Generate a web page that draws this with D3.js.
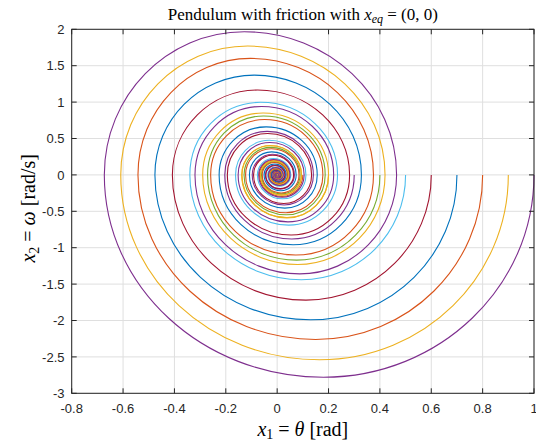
<!DOCTYPE html>
<html>
<head>
<meta charset="utf-8">
<script src="https://cdn.jsdelivr.net/npm/d3@7"></script>
<style>
  body { margin: 0; background: #fff; }
  svg { display: block; }
</style>
</head>
<body>
<svg id="chart" width="536" height="441"></svg>
<script>
// initial angles x1(0) in rad, x2(0) = 0
var startAngles = [0.1, 0.2, 0.3, 0.4, 0.5, 0.6, 0.7, 0.8, 0.9, 1.0];

// turning points of each trajectory:
// [x1, 0] where the spiral crosses x2 = 0, [x1, x2] at the x2 extremes
var traj01 = [[0.1,0],[0.019,-0.295],[-0.069,0],[-0.013,0.202],[0.047,0],[0.009,-0.138],[-0.033,0],[-0.006,0.097],[0.0225,0],[0.004,-0.066],[-0.0155,0],[-0.003,0.045],[0.0107,0],[0.002,-0.031],[-0.0074,0],[-0.0014,0.022],[0.0051,0],[0.001,-0.015]];
var traj02 = [[0.2,0],[0.038,-0.59],[-0.137,0],[-0.026,0.401],[0.094,0],[0.018,-0.275],[-0.065,0],[-0.012,0.19],[0.045,0],[0.0086,-0.132],[-0.031,0],[-0.006,0.091],[0.021,0],[0.004,-0.062],[-0.0147,0],[-0.0028,0.043],[0.0101,0],[0.002,-0.03],[-0.007,0],[-0.0013,0.02],[0.0048,0],[0.0009,-0.014]];
var traj03 = [[0.3,0],[0.057,-0.88],[-0.204,0],[-0.039,0.598],[0.141,0],[0.027,-0.413],[-0.097,0],[-0.018,0.284],[0.067,0],[0.013,-0.196],[-0.046,0],[-0.0088,0.135],[0.032,0],[0.0061,-0.094],[-0.022,0],[-0.0042,0.064],[0.015,0],[0.0029,-0.044],[-0.0104,0],[-0.002,0.03],[0.0072,0],[0.0014,-0.021],[-0.005,0],[-0.001,0.015]];
var traj04 = [[0.4,0],[0.076,-1.17],[-0.271,0],[-0.053,0.81],[0.187,0],[0.036,-0.548],[-0.129,0],[-0.025,0.378],[0.089,0],[0.017,-0.261],[-0.061,0],[-0.012,0.179],[0.042,0],[0.008,-0.123],[-0.029,0],[-0.0055,0.085],[0.02,0],[0.0038,-0.059],[-0.014,0],[-0.0027,0.041],[0.0096,0],[0.0018,-0.028],[-0.0066,0],[-0.0012,0.019],[0.0046,0],[0.0008,-0.013]];
var traj05 = [[0.5,0],[0.094,-1.44],[-0.34,0],[-0.065,0.997],[0.235,0],[0.045,-0.69],[-0.162,0],[-0.031,0.475],[0.112,0],[0.021,-0.328],[-0.077,0],[-0.015,0.226],[0.053,0],[0.01,-0.155],[-0.037,0],[-0.007,0.108],[0.025,0],[0.0048,-0.074],[-0.0175,0],[-0.0033,0.051],[0.012,0],[0.0023,-0.035],[-0.0083,0],[-0.0016,0.024],[0.0057,0],[0.0011,-0.017]];
var traj06 = [[0.6,0],[0.112,-1.72],[-0.408,0],[-0.076,1.166],[0.282,0],[0.054,-0.826],[-0.194,0],[-0.037,0.568],[0.134,0],[0.026,-0.393],[-0.092,0],[-0.018,0.27],[0.064,0],[0.012,-0.187],[-0.044,0],[-0.0084,0.129],[0.03,0],[0.0057,-0.088],[-0.021,0],[-0.004,0.062],[0.0145,0],[0.0027,-0.042],[-0.01,0],[-0.0019,0.029],[0.0069,0],[0.0013,-0.02],[-0.0047,0],[-0.0009,0.014]];
var traj07 = [[0.7,0],[0.13,-1.99],[-0.476,0],[-0.089,1.37],[0.328,0],[0.062,-0.96],[-0.226,0],[-0.043,0.66],[0.156,0],[0.03,-0.457],[-0.108,0],[-0.021,0.316],[0.074,0],[0.014,-0.217],[-0.051,0],[-0.0097,0.149],[0.035,0],[0.0067,-0.103],[-0.024,0],[-0.0046,0.07],[0.017,0],[0.0033,-0.05],[-0.0115,0],[-0.0022,0.034],[0.008,0],[0.0015,-0.023],[-0.0055,0],[-0.001,0.016]];
var traj08 = [[0.8,0],[0.15,-2.26],[-0.542,0],[-0.104,1.6],[0.375,0],[0.072,-1.1],[-0.259,0],[-0.049,0.76],[0.178,0],[0.034,-0.52],[-0.123,0],[-0.023,0.36],[0.085,0],[0.016,-0.249],[-0.058,0],[-0.011,0.17],[0.04,0],[0.0076,-0.117],[-0.028,0],[-0.0053,0.082],[0.019,0],[0.0036,-0.056],[-0.013,0],[-0.0025,0.038],[0.009,0],[0.0017,-0.026],[-0.0062,0],[-0.0012,0.018]];
var traj09 = [[0.9,0],[0.165,-2.54],[-0.609,0],[-0.115,1.77],[0.42,0],[0.08,-1.23],[-0.29,0],[-0.055,0.85],[0.2,0],[0.038,-0.586],[-0.138,0],[-0.026,0.404],[0.095,0],[0.018,-0.278],[-0.065,0],[-0.012,0.19],[0.045,0],[0.0086,-0.132],[-0.031,0],[-0.0059,0.091],[0.021,0],[0.004,-0.062],[-0.015,0],[-0.0028,0.043],[0.01,0],[0.0019,-0.029],[-0.007,0],[-0.0013,0.02],[0.0048,0],[0.0009,-0.014]];
var traj10 = [[1,0],[0.18,-2.78],[-0.673,0],[-0.128,1.967],[0.465,0],[0.088,-1.36],[-0.32,0],[-0.061,0.94],[0.22,0],[0.042,-0.645],[-0.152,0],[-0.029,0.445],[0.105,0],[0.02,-0.308],[-0.072,0],[-0.014,0.211],[0.05,0],[0.0095,-0.146],[-0.034,0],[-0.0065,0.1],[0.024,0],[0.0046,-0.07],[-0.016,0],[-0.003,0.047],[0.011,0],[0.002,-0.032],[-0.0076,0],[-0.0014,0.022],[0.0052,0],[0.001,-0.015]];

var trajectories = [traj01, traj02, traj03, traj04, traj05, traj06, traj07, traj08, traj09, traj10];

var xTicks = [-0.8, -0.6, -0.4, -0.2, 0, 0.2, 0.4, 0.6, 0.8, 1];
var yTicks = [-3, -2.5, -2, -1.5, -1, -0.5, 0, 0.5, 1, 1.5, 2];

// matlab default line colours (x1(0) = 0 took the first, blue)
var lineColors = ['#0072BD', '#D95319', '#EDB120', '#7E2F8E', '#77AC30', '#4DBEEE', '#A2142F'];

var svg = d3.select('#chart');
var plotL = 71.7, plotR = 534, plotT = 29.3, plotB = 393.3;

var x = d3.scaleLinear().domain([-0.8, 1]).range([plotL, plotR]);
var y = d3.scaleLinear().domain([-3, 2]).range([plotB, plotT]);

var axisColor = '#262626';
var tickFont = '"Liberation Sans", Arial, sans-serif';
var mathFont = '"Liberation Serif", "Times New Roman", serif';

// grid
var grid = svg.append('g').attr('class', 'grid');
grid.selectAll('line.gx').data(xTicks).enter().append('line')
  .attr('x1', function (d) { return x(d); })
  .attr('x2', function (d) { return x(d); })
  .attr('y1', plotT).attr('y2', plotB)
  .attr('stroke', '#dfdfdf').attr('stroke-width', 1);
grid.selectAll('line.gy').data(yTicks).enter().append('line')
  .attr('x1', plotL).attr('x2', plotR)
  .attr('y1', function (d) { return y(d); })
  .attr('y2', function (d) { return y(d); })
  .attr('stroke', '#dfdfdf').attr('stroke-width', 1);

// spirals: quarter-turn arcs between turning points
function spiralPath(pts) {
  var p = d3.path(), k = 0.5523;
  p.moveTo(x(pts[0][0]), y(pts[0][1]));
  for (var i = 1; i < pts.length; i++) {
    var ax = x(pts[i - 1][0]), ay = y(pts[i - 1][1]);
    var bx = x(pts[i][0]), by = y(pts[i][1]);
    if (pts[i - 1][1] === 0) {
      // vertical tangent at x2 = 0, horizontal at the x2 extreme
      p.bezierCurveTo(ax, ay + k * (by - ay), bx + k * (ax - bx), by, bx, by);
    } else {
      p.bezierCurveTo(ax + k * (bx - ax), ay, bx, by + k * (ay - by), bx, by);
    }
  }
  return p.toString();
}

svg.append('g').attr('class', 'lines')
  .selectAll('path')
  .data(trajectories)
  .enter()
  .append('path')
  .attr('d', spiralPath)
  .attr('fill', 'none')
  .attr('stroke', function (d, i) { return lineColors[(i + 1) % lineColors.length]; })
  .attr('stroke-width', 1.1);

// box + ticks
var box = svg.append('g').attr('class', 'box');
box.append('rect')
  .attr('x', plotL).attr('y', plotT)
  .attr('width', plotR - plotL).attr('height', plotB - plotT)
  .attr('fill', 'none').attr('stroke', axisColor).attr('stroke-width', 1);

var tl = 5;
xTicks.forEach(function (t) {
  box.append('line').attr('x1', x(t)).attr('x2', x(t)).attr('y1', plotB).attr('y2', plotB - tl)
    .attr('stroke', axisColor);
  box.append('line').attr('x1', x(t)).attr('x2', x(t)).attr('y1', plotT).attr('y2', plotT + tl)
    .attr('stroke', axisColor);
});
yTicks.forEach(function (t) {
  box.append('line').attr('x1', plotL).attr('x2', plotL + tl).attr('y1', y(t)).attr('y2', y(t))
    .attr('stroke', axisColor);
  box.append('line').attr('x1', plotR).attr('x2', plotR - tl).attr('y1', y(t)).attr('y2', y(t))
    .attr('stroke', axisColor);
});

svg.append('g').selectAll('text')
  .data(xTicks).enter().append('text')
  .attr('x', function (d) { return x(d); })
  .attr('y', 413)
  .attr('text-anchor', 'middle')
  .style('font-family', tickFont).style('font-size', '13px').style('fill', axisColor)
  .text(function (d) { return String(d); });

svg.append('g').selectAll('text')
  .data(yTicks).enter().append('text')
  .attr('x', 64.5)
  .attr('y', function (d) { return y(d) + 4.7; })
  .attr('text-anchor', 'end')
  .style('font-family', tickFont).style('font-size', '13px').style('fill', axisColor)
  .text(function (d) { return String(d); });

// title
var title = svg.append('text')
  .attr('x', (plotL + plotR) / 2).attr('y', 20)
  .attr('text-anchor', 'middle')
  .style('font-family', mathFont).style('font-size', '17px').style('fill', '#000');
title.append('tspan').text('Pendulum with friction with ');
title.append('tspan').style('font-style', 'italic').text('x');
title.append('tspan').style('font-style', 'italic').style('font-size', '12px').attr('dy', 3).text('eq');
title.append('tspan').attr('dy', -3).text(' = (0, 0)');

// x label
var xl = svg.append('text')
  .attr('x', (plotL + plotR) / 2).attr('y', 436)
  .attr('text-anchor', 'middle')
  .style('font-family', mathFont).style('font-size', '20px').style('fill', '#000');
xl.append('tspan').style('font-style', 'italic').text('x');
xl.append('tspan').style('font-size', '14px').attr('dy', 3).text('1');
xl.append('tspan').attr('dy', -3).text(' = ');
xl.append('tspan').style('font-style', 'italic').text('\u03b8');
xl.append('tspan').text(' [rad]');

// y label
var yl = svg.append('text')
  .attr('transform', 'translate(35,' + ((plotT + plotB) / 2 - 3) + ') rotate(-90)')
  .attr('text-anchor', 'middle')
  .style('font-family', mathFont).style('font-size', '20px').style('fill', '#000');
yl.append('tspan').style('font-style', 'italic').text('x');
yl.append('tspan').style('font-size', '14px').attr('dy', 4).text('2');
yl.append('tspan').attr('dy', -4).text(' = ');
yl.append('tspan').style('font-style', 'italic').text('\u03c9');
yl.append('tspan').text(' [rad/s]');
</script>
</body>
</html>
